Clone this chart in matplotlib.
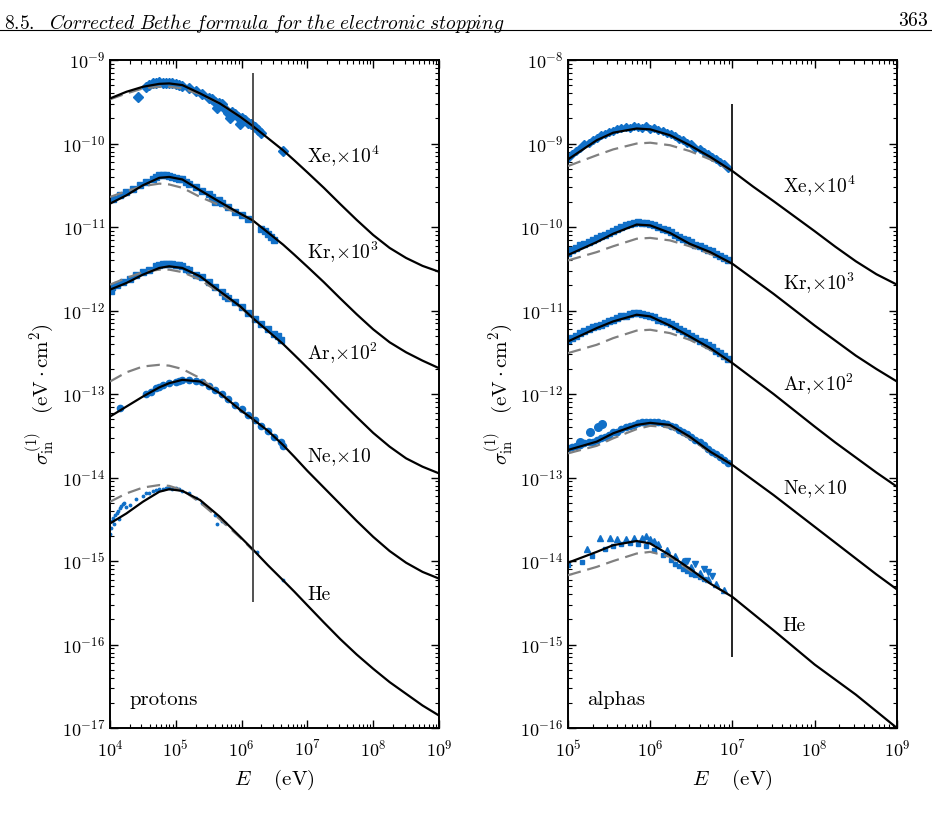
import numpy as np
import matplotlib
matplotlib.use("Agg")
import matplotlib.pyplot as plt
from matplotlib.ticker import LogLocator, NullFormatter

plt.rcParams['mathtext.fontset'] = 'cm'
plt.rcParams['font.family'] = 'serif'
plt.rcParams['font.serif'] = ['cmr10', 'DejaVu Serif']
plt.rcParams['axes.formatter.use_mathtext'] = True

BLUE = '#1170c8'

# ---------------- protons (left panel), all values are log10 -------------
P_LE = [4.0, 4.25, 4.5, 4.75, 4.9, 5.1, 5.37, 5.67, 5.98, 6.17, 6.4, 6.63, 6.8, 7.0, 7.25, 7.5, 7.75, 8.0, 8.25, 8.5, 8.75, 9.0]
P_XE = [-9.46, -9.38, -9.32, -9.285, -9.28, -9.30, -9.40, -9.52, -9.68, -9.79, -9.935, -10.08, -10.20, -10.345, -10.53,
        -10.725, -10.915, -11.095, -11.25, -11.37, -11.465, -11.535]
P_KR = [-10.72, -10.62, -10.50, -10.41, -10.40, -10.43, -10.56, -10.70, -10.84, -10.92, -11.065, -11.21, -11.33, -11.475,
        -11.66, -11.855, -12.045, -12.225, -12.38, -12.50, -12.60, -12.69]
P_AR = [-11.75, -11.67, -11.57, -11.49, -11.47, -11.49, -11.59, -11.77, -11.95, -12.09, -12.245, -12.40, -12.53, -12.685,
        -12.88, -13.08, -13.275, -13.465, -13.63, -13.77, -13.87, -13.95]
P_NE = [-13.27, -13.15, -13.03, -12.92, -12.87, -12.83, -12.85, -12.99, -13.19, -13.30, -13.44, -13.61, -13.75, -13.92,
        -14.12, -14.32, -14.52, -14.71, -14.88, -15.02, -15.13, -15.21]
P_HE = [-14.55, -14.43, -14.29, -14.17, -14.14, -14.16, -14.27, -14.47, -14.71, -14.86, -15.05, -15.23, -15.365, -15.53,
        -15.735, -15.935, -16.12, -16.29, -16.45, -16.59, -16.73, -16.85]

P_LE_D = [4.0, 4.25, 4.5, 4.75, 4.9, 5.1, 5.37, 5.67, 5.98, 6.17]
P_XE_D = [-9.47, -9.40, -9.34, -9.32, -9.32, -9.34, -9.41, -9.52, -9.68, -9.79]
P_KR_D = [-10.64, -10.57, -10.51, -10.48, -10.49, -10.53, -10.64, -10.74, -10.85, -10.92]
P_AR_D = [-11.69, -11.61, -11.54, -11.51, -11.51, -11.54, -11.63, -11.79, -11.96, -12.09]
P_NE_D = [-12.85, -12.74, -12.67, -12.65, -12.66, -12.70, -12.81, -12.99, -13.19, -13.30]
P_HE_D = [-14.29, -14.19, -14.12, -14.09, -14.10, -14.15, -14.30, -14.50, -14.72, -14.87]

# measured points (log10 E, log10 sigma)
PXE_E = [4.43, 4.55, 4.6, 4.65, 4.7, 4.75, 4.8, 4.85, 4.9, 4.95, 5.0, 5.05, 5.1, 5.2, 5.3, 5.4, 5.5, 5.55, 5.6, 5.62, 5.65,
         5.7, 5.75, 5.8, 5.82, 5.85, 5.9, 5.95, 5.98, 6.0, 6.05, 6.1, 6.15, 6.2, 6.25, 6.3, 6.63]
PXE_S = [-9.44, -9.32, -9.30, -9.27, -9.28, -9.26, -9.27, -9.27, -9.28, -9.27, -9.29, -9.30, -9.31, -9.34, -9.37, -9.41, -9.45,
         -9.47, -9.50, -9.58, -9.51, -9.53, -9.59, -9.64, -9.70, -9.62, -9.65, -9.68, -9.76, -9.70, -9.72, -9.75, -9.77, -9.80,
         -9.84, -9.87, -10.09]
PKR_E = [4.05, 4.15, 4.25, 4.35, 4.45, 4.55, 4.65, 4.7, 4.75, 4.8, 4.85, 4.9, 4.95, 5.0, 5.05, 5.1, 5.15, 5.2, 5.3, 5.4, 5.5,
         5.55, 5.6, 5.65, 5.7, 5.8, 5.9, 6.0, 6.1, 6.3, 6.35, 6.4, 6.45, 6.5]
PKR_S = [-10.66, -10.62, -10.58, -10.54, -10.50, -10.46, -10.42, -10.40, -10.38, -10.38, -10.38, -10.39, -10.40, -10.41, -10.42,
         -10.43, -10.46, -10.48, -10.52, -10.57, -10.61, -10.64, -10.70, -10.68, -10.71, -10.76, -10.82, -10.86, -10.90, -11.02,
         -11.05, -11.08, -11.12, -11.15]
PAR_E = [4.02, 4.03, 4.1, 4.2, 4.3, 4.4, 4.5, 4.6, 4.7, 4.75, 4.8, 4.85, 4.9, 4.95, 5.0, 5.05, 5.1, 5.15, 5.2, 5.3, 5.4, 5.5,
         5.6, 5.7, 5.75, 5.8, 5.9, 6.0, 6.1, 6.2, 6.3, 6.4, 6.5, 6.55, 6.6]
PAR_S = [-11.76, -11.72, -11.70, -11.66, -11.62, -11.58, -11.54, -11.51, -11.47, -11.45, -11.44, -11.44, -11.44, -11.44, -11.45,
         -11.46, -11.47, -11.50, -11.52, -11.57, -11.60, -11.66, -11.72, -11.78, -11.82, -11.85, -11.90, -11.96, -12.03, -12.10,
         -12.16, -12.22, -12.28, -12.31, -12.35]
PNE_E = [4.15, 4.55, 4.62, 4.7, 4.75, 4.8, 4.9, 5.0, 5.05, 5.1, 5.2, 5.3, 5.4, 5.5, 5.6, 5.7, 5.8, 5.9, 6.0, 6.1, 6.2, 6.3,
         6.4, 6.5, 6.6, 6.63]
PNE_S = [-13.17, -13.00, -12.97, -12.93, -12.91, -12.89, -12.87, -12.85, -12.84, -12.83, -12.83, -12.84, -12.86, -12.90, -12.95,
         -13.00, -13.06, -13.13, -13.18, -13.25, -13.31, -13.38, -13.44, -13.52, -13.58, -13.62]
PHE_E = [4.0, 4.01, 4.03, 4.05, 4.06, 4.08, 4.1, 4.12, 4.13, 4.15, 4.17, 4.2, 4.22, 4.25, 4.3, 4.4, 4.5, 4.55, 4.6, 4.65, 4.7,
         4.75, 4.8, 4.85, 4.9, 4.95, 5.0, 5.05, 5.1, 5.2, 5.3, 5.4, 5.6, 5.62, 5.7, 5.75, 6.23, 6.63]
PHE_S = [-14.68, -14.60, -14.52, -14.48, -14.56, -14.45, -14.42, -14.40, -14.50, -14.37, -14.34, -14.32, -14.30, -14.35, -14.33,
         -14.26, -14.22, -14.19, -14.18, -14.16, -14.15, -14.14, -14.14, -14.12, -14.13, -14.14, -14.13, -14.14, -14.16, -14.19,
         -14.24, -14.30, -14.45, -14.56, -14.52, -14.55, -14.89, -15.23]

# ---------------- alphas (right panel) -------------
A_LE = [5.0, 5.35, 5.55, 5.835, 6.0, 6.24, 6.48, 6.73, 7.0, 7.25, 7.5, 7.75, 8.0, 8.25, 8.5, 8.75, 9.0]
A_XE = [-9.19, -8.96, -8.87, -8.82, -8.83, -8.90, -9.02, -9.16, -9.33, -9.515, -9.69, -9.87, -10.05, -10.235, -10.41,
        -10.565, -10.69]
A_KR = [-10.335, -10.18, -10.08, -9.97, -9.98, -10.07, -10.20, -10.30, -10.44, -10.62, -10.80, -10.99, -11.18, -11.36,
        -11.54, -11.70, -11.85]
A_AR = [-11.37, -11.21, -11.13, -11.05, -11.07, -11.18, -11.31, -11.45, -11.63, -11.815, -12.00, -12.195, -12.39, -12.58,
        -12.76, -12.94, -13.11]
A_NE = [-12.67, -12.57, -12.47, -12.37, -12.345, -12.37, -12.51, -12.69, -12.85, -13.03, -13.21, -13.40, -13.59, -13.78,
        -13.97, -14.16, -14.34]
A_HE = [-14.02, -13.89, -13.81, -13.76, -13.79, -13.93, -14.09, -14.27, -14.43, -14.63, -14.83, -15.035, -15.24, -15.42,
        -15.60, -15.80, -16.0]

A_LE_D = [5.0, 5.35, 5.55, 5.835, 6.0, 6.24, 6.48, 6.73, 7.0]
A_XE_D = [-9.27, -9.14, -9.07, -9.00, -8.99, -9.02, -9.09, -9.19, -9.33]
A_KR_D = [-10.40, -10.30, -10.23, -10.14, -10.13, -10.16, -10.23, -10.32, -10.44]
A_AR_D = [-11.51, -11.41, -11.33, -11.24, -11.23, -11.27, -11.35, -11.47, -11.63]
A_NE_D = [-12.71, -12.62, -12.53, -12.42, -12.38, -12.40, -12.53, -12.70, -12.85]
A_HE_D = [-14.17, -14.07, -14.00, -13.91, -13.89, -13.95, -14.11, -14.27, -14.43]

A_PTS_E = [5.0, 5.05, 5.1, 5.15, 5.2, 5.25, 5.3, 5.35, 5.4, 5.45, 5.5, 5.55, 5.6, 5.65, 5.7, 5.75, 5.8, 5.85, 5.9, 5.95,
           6.0, 6.05, 6.1, 6.15, 6.2, 6.25, 6.3, 6.35, 6.4, 6.45, 6.5, 6.55, 6.6, 6.65, 6.7, 6.75, 6.8, 6.85, 6.9, 6.95]
AXE_S = [-9.17, -9.13, -9.09, -9.05, -9.01, -8.99, -8.96, -8.93, -8.90, -8.89, -8.86, -8.85, -8.82, -8.81, -8.80, -8.81, -8.79,
         -8.80, -8.81, -8.79, -8.82, -8.81, -8.84, -8.85, -8.87, -8.89, -8.91, -8.94, -8.96, -8.99, -9.01, -9.05, -9.07, -9.10,
         -9.13, -9.16, -9.19, -9.22, -9.25, -9.29]
AKR_S = [-10.31, -10.28, -10.25, -10.22, -10.20, -10.18, -10.15, -10.13, -10.11, -10.09, -10.07, -10.05, -10.02, -10.00, -9.98,
         -9.96, -9.95, -9.94, -9.95, -9.95, -9.96, -9.97, -10.00, -10.02, -10.04, -10.06, -10.09, -10.12, -10.14, -10.16, -10.18,
         -10.21, -10.23, -10.25, -10.27, -10.29, -10.32, -10.35, -10.37, -10.40]
AAR_S = [-11.35, -11.33, -11.30, -11.27, -11.24, -11.22, -11.20, -11.19, -11.17, -11.15, -11.13, -11.11, -11.09, -11.07, -11.06,
         -11.04, -11.03, -11.03, -11.04, -11.05, -11.06, -11.08, -11.11, -11.12, -11.14, -11.16, -11.19, -11.22, -11.25, -11.27,
         -11.30, -11.33, -11.36, -11.38, -11.41, -11.44, -11.48, -11.51, -11.55, -11.58]
ANE_S = [-12.65, -12.64, -12.62, -12.61, -12.59, -12.58, -12.57, -12.55, -12.53, -12.51, -12.49, -12.46, -12.45, -12.42, -12.40,
         -12.38, -12.37, -12.35, -12.34, -12.33, -12.33, -12.34, -12.34, -12.35, -12.36, -12.38, -12.40, -12.43, -12.46, -12.48,
         -12.51, -12.55, -12.58, -12.61, -12.66, -12.69, -12.72, -12.75, -12.79, -12.82]
ANE_OUT_E = [5.15, 5.27, 5.37, 5.41]
ANE_OUT_S = [-12.58, -12.46, -12.40, -12.36]
AHE_TRI_E = [5.23, 5.39, 5.51, 5.6, 5.7, 5.8, 5.9, 5.95, 6.0, 6.05, 6.1, 6.2, 6.3, 6.4, 6.5, 6.6, 6.7, 6.8, 6.9]
AHE_TRI_S = [-13.85, -13.73, -13.72, -13.74, -13.74, -13.73, -13.73, -13.70, -13.74, -13.76, -13.80, -13.87, -13.94, -14.00,
             -14.07, -14.14, -14.21, -14.28, -14.35]
AHE_SQ_E = [5.0, 5.17, 5.29, 5.45, 5.55, 5.65, 5.75, 5.85, 5.95, 6.05, 6.15, 6.25, 6.3, 6.35, 6.4, 6.45, 6.5, 6.55, 6.6, 6.65]
AHE_SQ_S = [-14.05, -14.01, -13.94, -13.86, -13.82, -13.80, -13.78, -13.79, -13.82, -13.87, -13.93, -13.99, -14.03, -14.06,
            -14.09, -14.12, -14.15, -14.17, -14.19, -14.22]
AHE_DN_E = [6.45, 6.55, 6.65, 6.7, 6.75]
AHE_DN_S = [-14.00, -14.04, -14.10, -14.13, -14.18]

GAS_LABELS = [r'Xe,$\times10^4$', r'Kr,$\times10^3$', r'Ar,$\times10^2$', r'Ne,$\times10$', 'He']
P_LABEL_Y = [-10.16, -11.31, -12.51, -13.75, -15.41]
A_LABEL_Y = [-9.51, -10.68, -11.88, -13.14, -14.78]


def p10(a):
    return 10.0 ** np.asarray(a)


def style_axes(ax, xlim, ylim):
    ax.set_xscale('log')
    ax.set_yscale('log')
    ax.set_xlim(*xlim)
    ax.set_ylim(*ylim)
    ax.xaxis.set_major_locator(LogLocator(base=10, numticks=20))
    ax.yaxis.set_major_locator(LogLocator(base=10, numticks=20))
    ax.xaxis.set_minor_locator(LogLocator(base=10, subs=np.arange(2, 10), numticks=50))
    ax.yaxis.set_minor_locator(LogLocator(base=10, subs=np.arange(2, 10), numticks=50))
    ax.yaxis.set_minor_formatter(NullFormatter())
    ax.xaxis.set_minor_formatter(NullFormatter())
    ax.tick_params(which='both', direction='in', top=True, right=True, labelsize=13)
    ax.tick_params(which='major', length=6, width=1.0)
    ax.tick_params(which='minor', length=3, width=0.8)
    ax.tick_params(axis='x', pad=8)
    for s in ax.spines.values():
        s.set_linewidth(1.4)
    ax.set_xlabel(r'$E\quad\ (\mathrm{eV})$', fontsize=15, labelpad=6)
    ax.set_ylabel(r'$\sigma^{(1)}_{\mathrm{in}}\quad(\mathrm{eV}\cdot\mathrm{cm}^2)$', fontsize=15, labelpad=4)


fig = plt.figure(figsize=(9.32, 8.26), dpi=100)
axL = fig.add_axes([0.118, 0.1186, 0.353, 0.8087])
axR = fig.add_axes([0.6094, 0.1186, 0.353, 0.8087])

# left panel
for pe, ps, mk, ms in [(PXE_E, PXE_S, 'D', 5), (PKR_E, PKR_S, 's', 4.5), (PAR_E, PAR_S, 's', 4.5),
                       (PNE_E, PNE_S, 'o', 4.5), (PHE_E, PHE_S, '.', 3.5)]:
    axL.plot(p10(pe), p10(ps), ls='none', marker=mk, ms=ms, color=BLUE, mec=BLUE, zorder=2)
for ys in [P_XE_D, P_KR_D, P_AR_D, P_NE_D, P_HE_D]:
    axL.plot(p10(P_LE_D), p10(ys), color='#808080', lw=1.6, dashes=(6, 3), zorder=3)
for ys in [P_XE, P_KR, P_AR, P_NE, P_HE]:
    axL.plot(p10(P_LE), p10(ys), color='black', lw=1.6, zorder=4)
axL.vlines(1.48e6, 3.2e-16, 7e-10, color='#333333', lw=1.2, zorder=5)
for lab, ly in zip(GAS_LABELS, P_LABEL_Y):
    axL.text(1.0e7, 10 ** ly, lab, fontsize=14, va='center', ha='left')
axL.text(2.0e4, 10 ** -16.66, 'protons', fontsize=15, va='center', ha='left')
style_axes(axL, (1e4, 1e9), (1e-17, 1e-9))

# right panel
for ys, mk in [(AXE_S, 'D'), (AKR_S, 's'), (AAR_S, 's'), (ANE_S, 'o')]:
    axR.plot(p10(A_PTS_E), p10(ys), ls='none', marker=mk, ms=4.5, color=BLUE, mec=BLUE, zorder=2)
axR.plot(p10(ANE_OUT_E), p10(ANE_OUT_S), ls='none', marker='o', ms=5.5, color=BLUE, zorder=2)
axR.plot(p10(AHE_TRI_E), p10(AHE_TRI_S), ls='none', marker='^', ms=4, color=BLUE, zorder=2)
axR.plot(p10(AHE_SQ_E), p10(AHE_SQ_S), ls='none', marker='s', ms=3.5, color=BLUE, zorder=2)
axR.plot(p10(AHE_DN_E), p10(AHE_DN_S), ls='none', marker='v', ms=4, color=BLUE, zorder=2)
for ys in [A_XE_D, A_KR_D, A_AR_D, A_NE_D, A_HE_D]:
    axR.plot(p10(A_LE_D), p10(ys), color='#808080', lw=1.6, dashes=(6, 3), zorder=3)
for ys in [A_XE, A_KR, A_AR, A_NE, A_HE]:
    axR.plot(p10(A_LE), p10(ys), color='black', lw=1.6, zorder=4)
axR.vlines(1.0e7, 7e-16, 3e-9, color='black', lw=1.2, zorder=5)
for lab, ly in zip(GAS_LABELS, A_LABEL_Y):
    axR.text(4.1e7, 10 ** ly, lab, fontsize=14, va='center', ha='left')
axR.text(1.7e5, 10 ** -15.66, 'alphas', fontsize=15, va='center', ha='left')
style_axes(axR, (1e5, 1e9), (1e-16, 1e-8))

# running header
fig.text(0.004, 0.985, r'$\mathit{8.5.\ \ Corrected\ Bethe\ formula\ for\ the\ electronic\ stopping}$',
         fontsize=14, va='top', ha='left')
fig.text(0.996, 0.985, r'$\mathit{363}$', fontsize=14, va='top', ha='right')
fig.add_artist(plt.Line2D([0.0, 1.0], [0.964, 0.964], transform=fig.transFigure, color='black', lw=0.8))

fig.savefig('out.png', dpi=100)
